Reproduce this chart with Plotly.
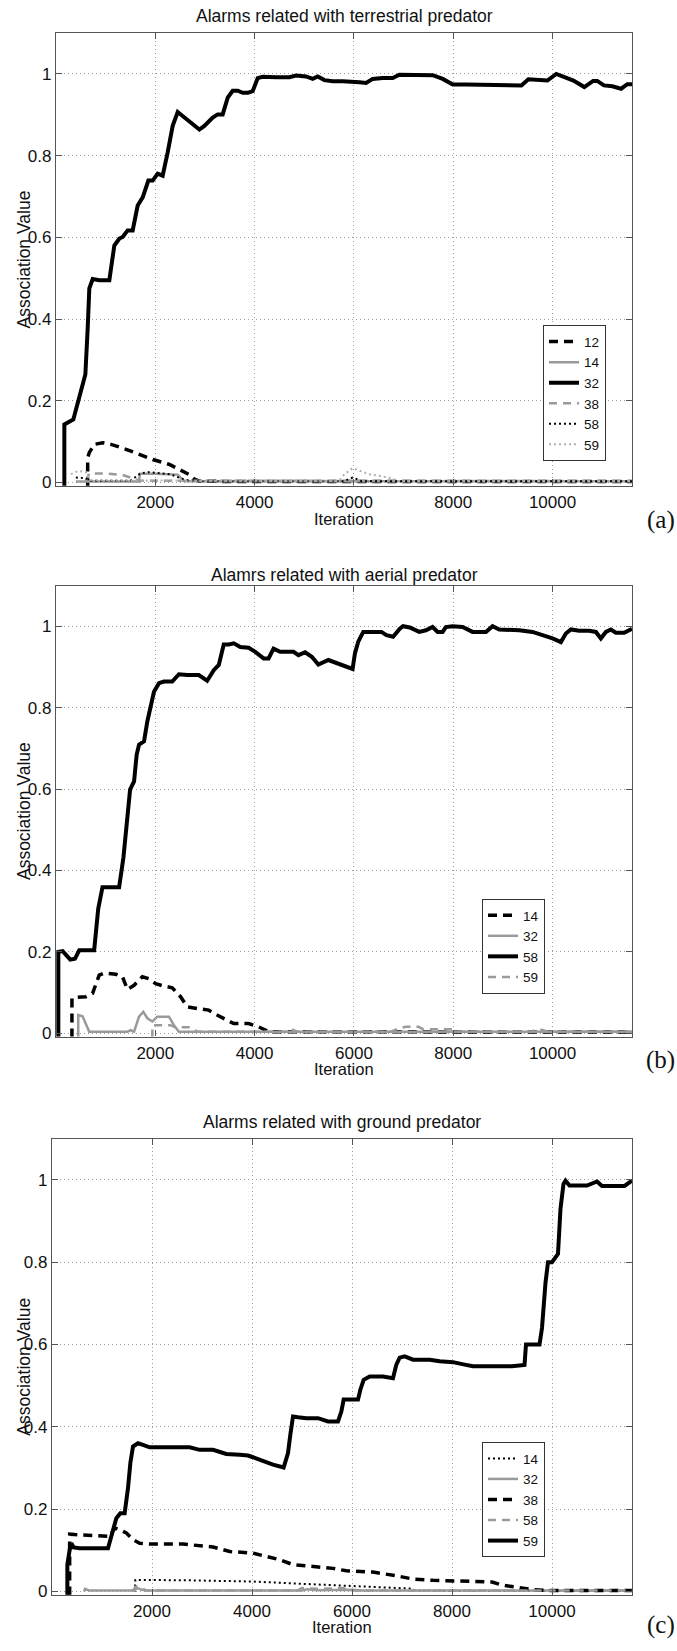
import plotly.graph_objects as go

W, H = 677, 1651

# ---------------- data (Iteration, Association Value) ----------------
# Panel (a): Alarms related with terrestrial predator
a12_x = [638, 638, 671, 772, 940, 1108, 1410, 1679, 1947, 2283, 2551, 2686, 2786, 2887, 3500, 6000, 11600]
a12_y = [-0.01, 0.060, 0.073, 0.093, 0.097, 0.093, 0.081, 0.069, 0.056, 0.044, 0.028, 0.019, 0.008, 0.003, 0.002, 0.002, 0.002]

a14_x = [400, 1670, 1690, 2000, 2450, 2580, 11600]
a14_y = [0.002, 0.002, 0.021, 0.021, 0.019, 0.003, 0.003]

a32_x = [168, 168, 349, 436, 524, 591, 638, 671, 739, 873, 1074, 1175, 1276, 1343, 1443, 1544, 1645, 1746,
         1860, 1947, 2048, 2148, 2249, 2350, 2451, 2551, 2686, 2786, 2887, 2988, 3156, 3256, 3357, 3458,
         3558, 3659, 3760, 3861, 3961, 4062, 4163, 4431, 4700, 4834, 5036, 5170, 5270, 5405, 5573, 5774,
         5975, 6110, 6244, 6378, 6580, 6781, 6915, 7184, 7587, 7788, 7990, 8258, 8728, 9372, 9513, 9700,
         9896, 10075, 10250, 10420, 10640, 10816, 10900, 11034, 11205, 11380, 11507, 11600]
a32_y = [-0.01, 0.142, 0.154, 0.191, 0.227, 0.264, 0.377, 0.475, 0.498, 0.495, 0.495, 0.580, 0.597, 0.601, 0.617, 0.617, 0.678, 0.698,
         0.739, 0.739, 0.756, 0.751, 0.808, 0.873, 0.907, 0.897, 0.881, 0.873, 0.864, 0.873, 0.893, 0.901, 0.901, 0.942,
         0.959, 0.959, 0.954, 0.954, 0.958, 0.990, 0.993, 0.992, 0.992, 0.996, 0.994, 0.988, 0.994, 0.985, 0.982, 0.982,
         0.982, 0.980, 0.978, 0.988, 0.990, 0.990, 0.998, 0.998, 0.997, 0.988, 0.974, 0.974, 0.974, 0.972, 0.987, 0.985,
         0.984, 1.000, 0.992, 0.984, 0.968, 0.983, 0.983, 0.972, 0.970, 0.964, 0.975, 0.975]

a38_x = [600, 671, 1000, 1343, 1544, 1700, 11600]
a38_y = [0.003, 0.022, 0.022, 0.018, 0.010, 0.004, 0.003]

a58_x = [400, 600, 700, 1500, 1700, 1850, 2300, 2600, 2900, 5800, 5975, 6150, 11600]
a58_y = [0.012, 0.010, 0.004, 0.004, 0.022, 0.025, 0.020, 0.006, 0.003, 0.003, 0.012, 0.003, 0.003]

a59_x = [300, 450, 600, 700, 5700, 5808, 5975, 6300, 6700, 6915, 11600]
a59_y = [0.020, 0.028, 0.025, 0.005, 0.003, 0.020, 0.035, 0.020, 0.012, 0.003, 0.003]

# Panel (b): Alamrs related with aerial predator
b14_x = [321, 321, 401, 602, 736, 870, 970, 1204, 1338, 1438, 1572, 1739, 1873, 2007, 2174, 2341, 2508, 2642,
         2843, 3077, 3244, 3579, 3880, 4080, 4281, 11600]
b14_y = [-0.01, 0.086, 0.088, 0.090, 0.098, 0.143, 0.148, 0.145, 0.139, 0.108, 0.118, 0.139, 0.134, 0.122, 0.116, 0.112, 0.090, 0.065,
         0.061, 0.057, 0.045, 0.024, 0.024, 0.016, 0.004, 0.003]

b32_x = [448, 448, 535, 602, 669, 1438, 1505, 1572, 1672, 1759, 1839, 1940, 2040, 2274, 2375, 2475, 11600]
b32_y = [-0.01, 0.045, 0.042, 0.024, 0.004, 0.004, 0.008, 0.004, 0.041, 0.053, 0.037, 0.029, 0.041, 0.041, 0.020, 0.004, 0.004]

b58_x = [47, 47, 134, 201, 288, 381, 468, 769, 850, 936, 1271, 1358, 1425, 1492, 1572, 1625, 1672, 1773, 1839,
         1906, 1973, 2074, 2174, 2341, 2475, 2642, 2876, 3044, 3177, 3278, 3378, 3478, 3579, 3712, 3880, 4013,
         4181, 4281, 4381, 4515, 4783, 4883, 5017, 5151, 5284, 5485, 5652, 5853, 5973, 6020, 6087, 6187, 6555,
         6655, 6789, 6923, 6990, 7124, 7315, 7450, 7584, 7685, 7785, 7852, 7987, 8188, 8389, 8658, 8792, 8926,
         9329, 9597, 9832, 10000, 10168, 10268, 10369, 10537, 10738, 10872, 10973, 11074, 11174, 11275, 11443,
         11577, 11600]
b58_y = [-0.01, 0.200, 0.202, 0.194, 0.181, 0.183, 0.204, 0.204, 0.306, 0.359, 0.359, 0.432, 0.522, 0.599, 0.619, 0.685, 0.709, 0.717, 0.766,
         0.807, 0.839, 0.860, 0.864, 0.864, 0.882, 0.880, 0.880, 0.866, 0.892, 0.905, 0.955, 0.955, 0.958, 0.949, 0.947, 0.937,
         0.921, 0.921, 0.945, 0.937, 0.937, 0.929, 0.936, 0.925, 0.906, 0.917, 0.909, 0.901, 0.895, 0.933, 0.962, 0.986, 0.986,
         0.978, 0.974, 0.994, 1.000, 0.997, 0.986, 0.990, 0.998, 0.986, 0.986, 0.998, 1.000, 0.998, 0.986, 0.986, 1.000, 0.992,
         0.990, 0.986, 0.978, 0.970, 0.961, 0.982, 0.992, 0.989, 0.989, 0.986, 0.970, 0.986, 0.992, 0.984, 0.984,
         0.994, 0.994]

b59_x = [1940, 1940, 2300, 2400, 2700, 2850, 4650, 4750, 4850, 6750, 6900, 7050, 7300, 7400, 8000, 8100, 9600, 9650, 9800, 9900, 11600]
b59_y = [-0.01, 0.020, 0.020, 0.015, 0.015, 0.004, 0.004, 0.010, 0.004, 0.004, 0.012, 0.016, 0.016, 0.010, 0.010, 0.004, 0.004, 0.010, 0.008, 0.004, 0.004]

# Panel (c): Alarms related with ground predator
c14_x = [1660, 1667, 2700, 4020, 5087, 5754, 6420, 7154, 7300, 11600]
c14_y = [0.000, 0.028, 0.027, 0.024, 0.018, 0.014, 0.010, 0.007, 0.002, 0.001]

c32_x = [640, 660, 750, 1650, 1700, 1800, 1900, 5000, 5100, 5300, 6000, 6200, 11600]
c32_y = [0.000, 0.006, 0.002, 0.002, 0.008, 0.004, 0.002, 0.002, 0.005, 0.003, 0.004, 0.002, 0.002]

c38_x = [353, 353, 453, 1153, 1253, 1353, 1487, 1620, 1753, 1987, 2620, 2953, 3220, 3553, 4020, 4220, 4553, 4820,
         5287, 5620, 5887, 6420, 6887, 7220, 7620, 8087, 8420, 8800, 9015, 9275, 9575, 9920, 11600]
c38_y = [-0.01, 0.139, 0.138, 0.134, 0.154, 0.150, 0.142, 0.126, 0.117, 0.115, 0.115, 0.112, 0.108, 0.097, 0.093, 0.087, 0.077, 0.065,
         0.059, 0.056, 0.050, 0.047, 0.038, 0.030, 0.027, 0.026, 0.024, 0.023, 0.015, 0.0095, 0.005, 0.002, 0.002]

c58_x = [1600, 1680, 1780, 1880, 4900, 5000, 5400, 5800, 6000, 11600]
c58_y = [0.000, 0.012, 0.010, 0.002, 0.002, 0.008, 0.006, 0.008, 0.002, 0.002]

c59_x = [307, 307, 353, 387, 433, 553, 1120, 1187, 1287, 1367, 1453, 1520, 1567, 1620, 1720, 1820, 1953, 2753,
         2953, 3220, 3487, 3753, 3920, 4020, 4220, 4420, 4633, 4720, 4767, 4820, 4920, 5087, 5320, 5520, 5720,
         5787, 5833, 6120, 6167, 6233, 6353, 6620, 6820, 6887, 6953, 7053, 7220, 7553, 7753, 8020, 8253, 8420,
         8753, 9200, 9450, 9480, 9750, 9800, 9870, 9920, 10000, 10060, 10120, 10170, 10230, 10270, 10350, 10700,
         10900, 11000, 11450, 11600]
c59_y = [-0.01, 0.065, 0.101, 0.117, 0.107, 0.105, 0.105, 0.138, 0.178, 0.190, 0.190, 0.251, 0.312, 0.352, 0.360, 0.356, 0.350, 0.350,
         0.344, 0.344, 0.334, 0.332, 0.330, 0.326, 0.316, 0.308, 0.301, 0.336, 0.381, 0.425, 0.423, 0.421, 0.421, 0.413, 0.413,
         0.437, 0.466, 0.466, 0.490, 0.514, 0.522, 0.522, 0.518, 0.551, 0.568, 0.571, 0.563, 0.563, 0.559, 0.557, 0.551, 0.547,
         0.547, 0.547, 0.550, 0.600, 0.600, 0.640, 0.750, 0.800, 0.800, 0.810, 0.820, 0.930, 0.990, 0.998, 0.986, 0.986,
         0.996, 0.985, 0.985, 0.998]

x_ticks = [2000, 4000, 6000, 8000, 10000]
x_ticktext = ["2000", "4000", "6000", "8000", "10000"]
y_ticks = [0, 0.2, 0.4, 0.6, 0.8, 1]
y_ticktext = ["0", "0.2", "0.4", "0.6", "0.8", "1"]

titles = ["Alarms related with terrestrial predator",
          "Alamrs related with aerial predator",
          "Alarms related with ground predator"]
panel_labels = ["(a)", "(b)", "(c)"]

# ---------------- styles ----------------
GRAY = "#9a9a9a"
STY = {
    "blk_solid": dict(color="black", width=4, dash="solid"),
    "blk_dash": dict(color="black", width=3.5, dash="9px,6px"),
    "blk_dot": dict(color="black", width=2, dash="2px,3px"),
    "gry_solid": dict(color=GRAY, width=2.5, dash="solid"),
    "gry_dash": dict(color=GRAY, width=2.5, dash="8px,6px"),
    "gry_dot": dict(color="#b0b0b0", width=2, dash="2px,3px"),
}

series = [
    [("12", a12_x, a12_y, "blk_dash"), ("14", a14_x, a14_y, "gry_solid"), ("32", a32_x, a32_y, "blk_solid"),
     ("38", a38_x, a38_y, "gry_dash"), ("58", a58_x, a58_y, "blk_dot"), ("59", a59_x, a59_y, "gry_dot")],
    [("14", b14_x, b14_y, "blk_dash"), ("32", b32_x, b32_y, "gry_solid"), ("58", b58_x, b58_y, "blk_solid"),
     ("59", b59_x, b59_y, "gry_dash")],
    [("14", c14_x, c14_y, "blk_dot"), ("32", c32_x, c32_y, "gry_solid"), ("38", c38_x, c38_y, "blk_dash"),
     ("58", c58_x, c58_y, "gry_dash"), ("59", c59_x, c59_y, "blk_solid")],
]

# pixel layout of each panel: frame left/right, top/bottom, text rows, legend centre
frames = [
    dict(l=56, r=632, t=33.3, b=487.7, title_y=16, iter_y=521, lab_y=522, leg_cx=574.5, leg_cy=395),
    dict(l=56, r=632, t=588, b=1041, title_y=577, iter_y=1074, lab_y=1065, leg_cx=513.5, leg_cy=950.5),
    dict(l=52, r=632, t=1143.5, b=1601.5, title_y=1127, iter_y=1634, lab_y=1632, leg_cx=513.5, leg_cy=1506),
]

FONT = "Liberation Sans, Arial, Helvetica, sans-serif"

fig = go.Figure()
annotations = []
layout = dict(
    width=W, height=H, margin=dict(l=0, r=0, t=0, b=0),
    paper_bgcolor="white", plot_bgcolor="white",
    font=dict(family=FONT, size=17, color="#111"),
)

for i, (fr, ser) in enumerate(zip(frames, series)):
    n = "" if i == 0 else str(i + 1)
    leg = "legend" + n
    for name, xs, ys, st in ser:
        fig.add_trace(go.Scatter(
            x=xs, y=ys, mode="lines", name=name, line=STY[st],
            xaxis="x" + n, yaxis="y" + n, legend=leg, showlegend=True,
        ))
    axcommon = dict(
        showline=True, linecolor="#555", linewidth=1.3, mirror="ticks",
        ticks="inside", ticklen=6, tickcolor="#555", tickwidth=1.2,
        showgrid=True, gridcolor="#9c9c9c", gridwidth=1, griddash="1px,3px",
        zeroline=False, tickfont=dict(family=FONT, size=17, color="#111"),
    )
    layout["xaxis" + n] = dict(
        axcommon, domain=[fr["l"] / W, fr["r"] / W], range=[0, 11600],
        tickvals=x_ticks, ticktext=x_ticktext, anchor="y" + n, ticklabelstandoff=1,
    )
    layout["yaxis" + n] = dict(
        axcommon, domain=[1 - fr["b"] / H, 1 - fr["t"] / H], range=[-0.008, 1.1],
        tickvals=y_ticks, ticktext=y_ticktext, anchor="x" + n,
    )
    layout[leg] = dict(
        x=fr["leg_cx"] / W, y=1 - fr["leg_cy"] / H, xanchor="center", yanchor="middle",
        bgcolor="white", bordercolor="#333", borderwidth=1,
        font=dict(family=FONT, size=13.5, color="#111"), tracegroupgap=0,
    )
    cx = (fr["l"] + fr["r"]) / 2 / W
    annotations += [
        dict(text=titles[i], x=cx, y=1 - fr["title_y"] / H, xref="paper", yref="paper",
             showarrow=False, xanchor="center", yanchor="middle",
             font=dict(family=FONT, size=17.5, color="#111")),
        dict(text="Iteration", x=cx, y=1 - fr["iter_y"] / H, xref="paper", yref="paper",
             showarrow=False, xanchor="center", yanchor="middle",
             font=dict(family=FONT, size=16.5, color="#111")),
        dict(text="Association Value", x=24 / W, y=1 - (fr["t"] + fr["b"]) / 2 / H,
             xref="paper", yref="paper", showarrow=False, textangle=-90,
             xanchor="center", yanchor="middle",
             font=dict(family=FONT, size=17.5, color="#111")),
        dict(text=panel_labels[i], x=1.0, y=1 - fr["lab_y"] / H, xref="paper", yref="paper",
             showarrow=False, xanchor="right", yanchor="middle",
             font=dict(family="Liberation Serif, Times New Roman, serif", size=25, color="#111")),
    ]

layout["annotations"] = annotations
fig.update_layout(**layout)
fig.write_html("out.html", config={"displayModeBar": False},
               post_script="document.body.style.margin='0';document.body.style.overflow='hidden';")
